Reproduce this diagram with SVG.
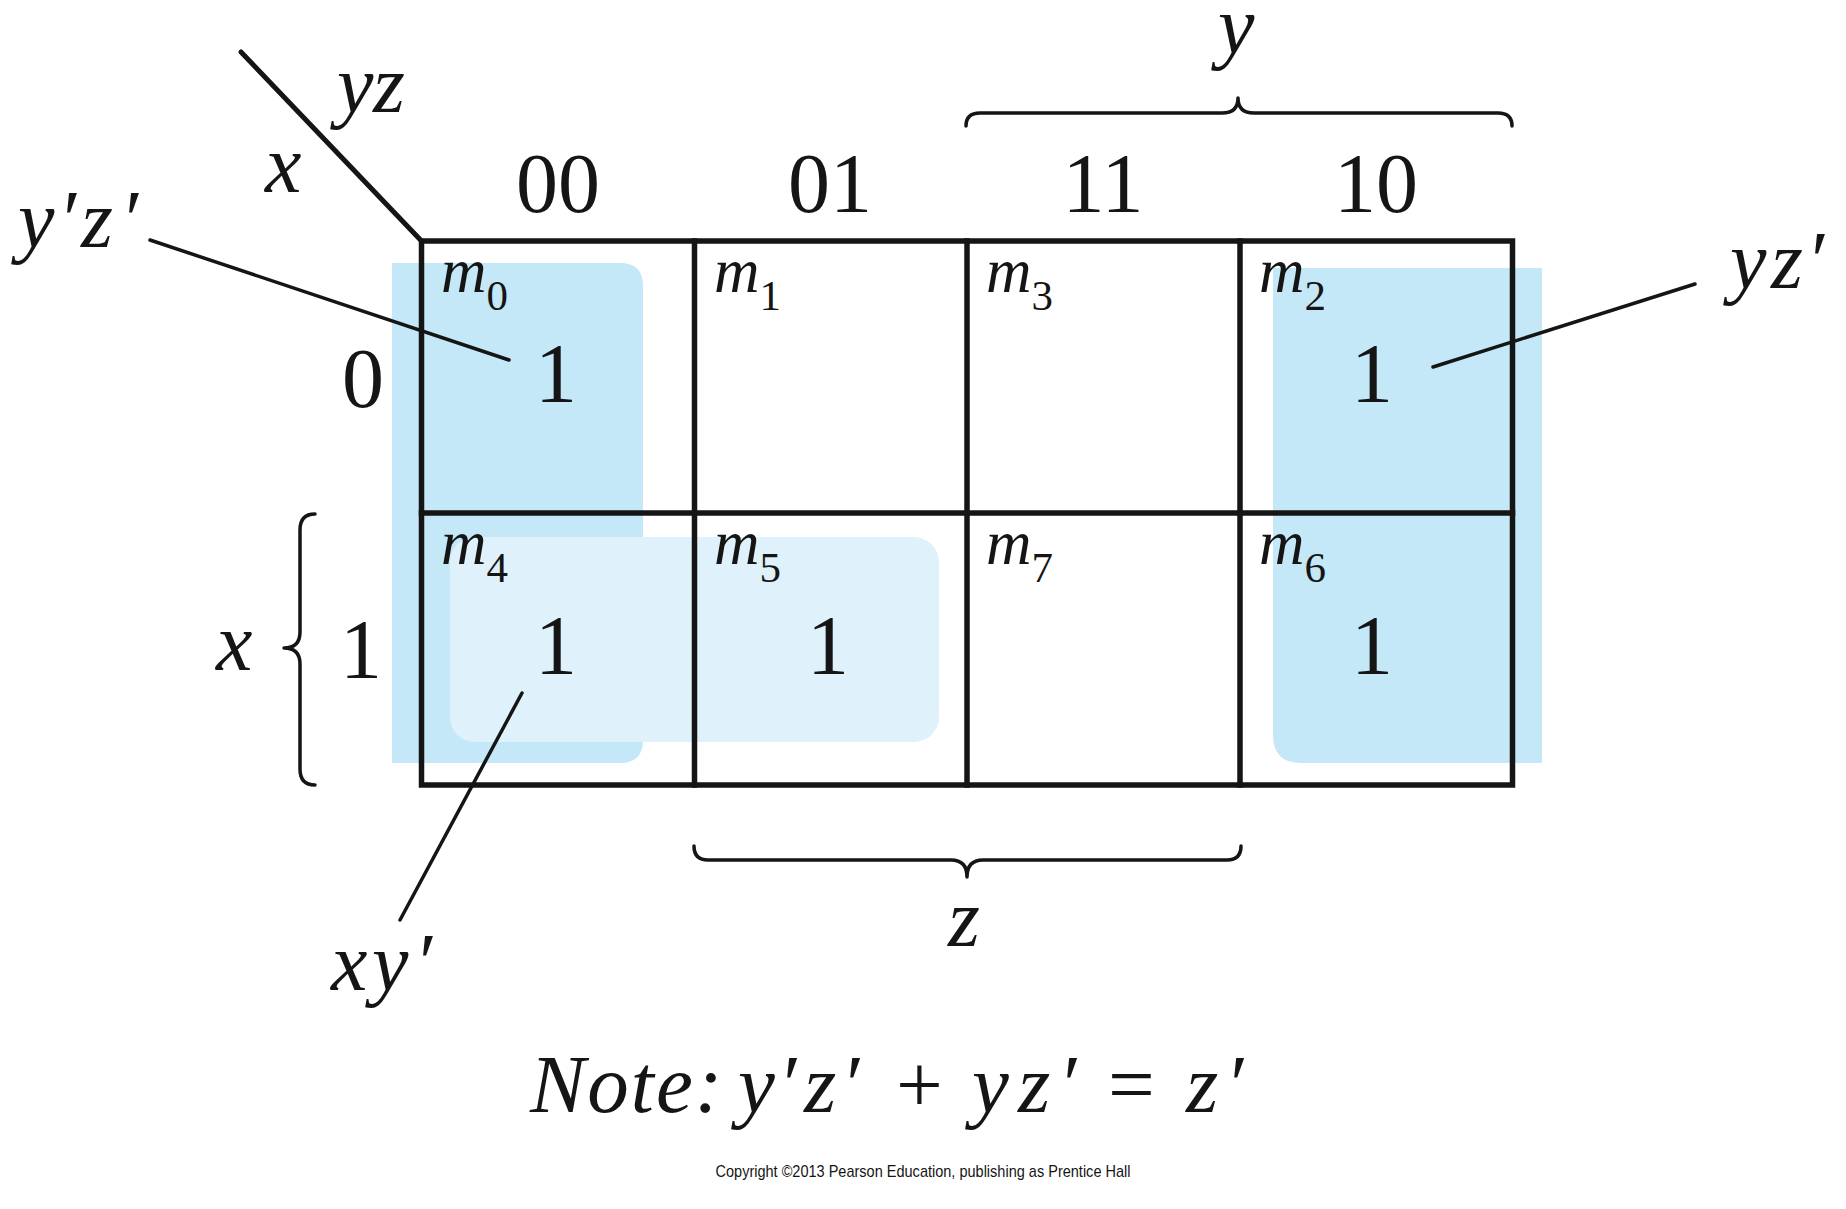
<svg xmlns="http://www.w3.org/2000/svg" width="1846" height="1209" viewBox="0 0 1846 1209">
<style>
.t{font-family:"Liberation Serif","Times New Roman",serif;fill:#151515}
.i{font-style:italic}
.n{font-style:normal}
.hd{font-size:84px;text-anchor:middle}
.v{font-size:84px;text-anchor:middle}
.m{font-size:63px;font-style:italic}
.sub{font-size:43px;font-style:normal}
.var{font-size:82px;font-style:italic}
.grid{fill:none;stroke:#151515;stroke-width:5.5;stroke-linecap:square}
.lead{fill:none;stroke:#151515;stroke-width:3.5;stroke-linecap:round}
.brace{fill:none;stroke:#151515;stroke-width:3.5;stroke-linecap:round;stroke-linejoin:round}
.hl{fill:#c5e8f8}
.hl2{fill:#dff2fb}
</style>
<rect width="1846" height="1209" fill="#ffffff"/>
<g id="highlights">
<path id="group-yz0" class="hl" d="M392,263 H620 Q643,263 643,286 V740 Q643,763 620,763 H392 Z"/>
<path id="group-yz1" class="hl" d="M1273,268 H1542 V763 H1301 Q1273,763 1273,735 Z"/>
<rect id="group-xy" class="hl2" x="450" y="537" width="489" height="205" rx="25" ry="25"/>
</g>
<g id="grid">
<rect class="grid" x="421.5" y="241" width="1091" height="544"/>
<line class="grid" x1="421.5" y1="513" x2="1512.5" y2="513"/>
<line class="grid" x1="694.5" y1="241" x2="694.5" y2="785"/>
<line class="grid" x1="967" y1="241" x2="967" y2="785"/>
<line class="grid" x1="1240" y1="241" x2="1240" y2="785"/>
<line class="grid" x1="241" y1="52" x2="421.5" y2="241" style="stroke-width:5;stroke-linecap:round"/>
</g>
<g id="axis-labels">
<text class="t var" y="112"><tspan x="337">y</tspan><tspan x="373">z</tspan></text>
<text class="t var" x="265" y="192">x</text>
<text class="t hd" x="558" y="212">00</text>
<text class="t hd" x="830" y="212">01</text>
<text class="t hd" x="1103" y="212">11</text>
<text class="t hd" x="1376" y="212">10</text>
<text class="t hd" x="363" y="407">0</text>
<text class="t hd" x="361" y="678">1</text>
<text class="t var" x="216" y="670">x</text>
<text class="t var" x="1218" y="53">y</text>
<text class="t var" x="948" y="946">z</text>
</g>
<g id="cells">
<g id="cell-m0"><text class="t m" x="441" y="292">m<tspan class="sub" dy="18">0</tspan></text><text class="t v" x="556" y="402">1</text></g>
<g id="cell-m1"><text class="t m" x="714" y="292">m<tspan class="sub" dy="18">1</tspan></text></g>
<g id="cell-m3"><text class="t m" x="986" y="292">m<tspan class="sub" dy="18">3</tspan></text></g>
<g id="cell-m2"><text class="t m" x="1259" y="292">m<tspan class="sub" dy="18">2</tspan></text><text class="t v" x="1372" y="402">1</text></g>
<g id="cell-m4"><text class="t m" x="441" y="564">m<tspan class="sub" dy="18">4</tspan></text><text class="t v" x="556" y="674">1</text></g>
<g id="cell-m5"><text class="t m" x="714" y="564">m<tspan class="sub" dy="18">5</tspan></text><text class="t v" x="828" y="674">1</text></g>
<g id="cell-m7"><text class="t m" x="986" y="564">m<tspan class="sub" dy="18">7</tspan></text></g>
<g id="cell-m6"><text class="t m" x="1259" y="564">m<tspan class="sub" dy="18">6</tspan></text><text class="t v" x="1372" y="674">1</text></g>
</g>
<g id="braces">
<path class="brace" d="M966,126 Q966,113 980,113 L1222,113 Q1238,113 1238,98 Q1238,113 1254,113 L1498,113 Q1512,113 1512,126"/>
<path class="brace" d="M694,846 Q694,860 708,860 L951,860 Q967,860 967,877 Q967,860 983,860 L1227,860 Q1241,860 1241,846"/>
<path class="brace" d="M315,514 Q300,514 300,530 L300,632 Q300,648 284,648 Q300,648 300,664 L300,769 Q300,785 315,785"/>
</g>
<g id="connectors">
<line class="lead" x1="150" y1="240" x2="509" y2="360"/>
<line class="lead" x1="1433" y1="367" x2="1695" y2="284"/>
<line class="lead" x1="522" y1="693" x2="400" y2="920"/>
</g>
<g id="term-labels">
<text class="t var" y="247"><tspan x="18">y</tspan><tspan x="58">′</tspan><tspan x="81">z</tspan><tspan x="120">′</tspan></text>
<text class="t var" y="288"><tspan x="1730">y</tspan><tspan x="1771">z</tspan><tspan x="1806">′</tspan></text>
<text class="t var" y="990"><tspan x="331">x</tspan><tspan x="372">y</tspan><tspan x="414">′</tspan></text>
</g>
<g id="note">
<text class="t" font-size="83" y="1112"><tspan class="i" x="530" letter-spacing="2">Note:</tspan><tspan class="i" x="738">y</tspan><tspan class="i" x="778">′</tspan><tspan class="i" x="804">z</tspan><tspan class="i" x="841">′</tspan><tspan class="n" x="896">+</tspan><tspan class="i" x="972">y</tspan><tspan class="i" x="1018">z</tspan><tspan class="i" x="1058">′</tspan><tspan class="n" x="1108">=</tspan><tspan class="i" x="1186">z</tspan><tspan class="i" x="1225">′</tspan></text>
</g>
<text class="t" x="923" y="1177" style="font-family:'Liberation Sans',Arial,sans-serif;font-size:17px;text-anchor:middle" textLength="415" lengthAdjust="spacingAndGlyphs">Copyright ©2013 Pearson Education, publishing as Prentice Hall</text>
</svg>
